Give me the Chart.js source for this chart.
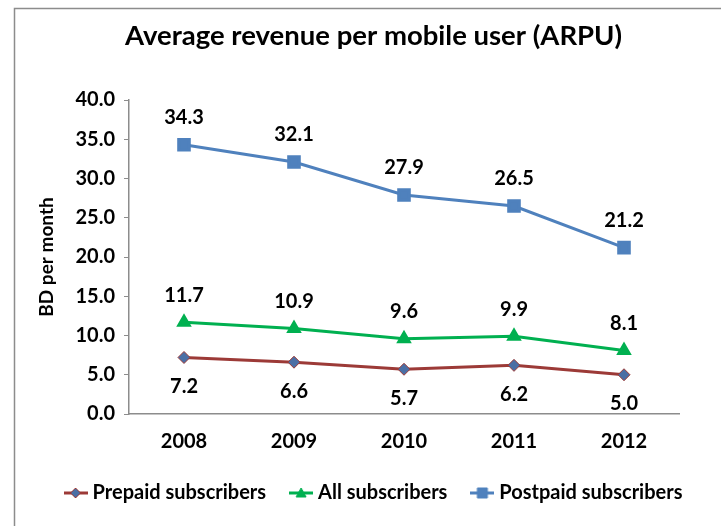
<!DOCTYPE html>
<html>
<head>
<meta charset="utf-8">
<script src="https://cdn.jsdelivr.net/npm/chart.js@4"></script>
<style>
  html, body { margin: 0; padding: 0; background: #fff; }
  #wrap { width: 721px; height: 526px; position: relative; }
</style>
</head>
<body>
<div id="wrap"><canvas id="arpuChart"></canvas></div>
<script>
// --- data ---
const years = ["2008", "2009", "2010", "2011", "2012"];
const prepaid = [7.2, 6.6, 5.7, 6.2, 5.0];
const allSubs = [11.7, 10.9, 9.6, 9.9, 8.1];
const postpaid = [34.3, 32.1, 27.9, 26.5, 21.2];

const FONT = "Lato, 'Open Sans', sans-serif";

// small line+marker swatch for the legend
function makeSwatch(lineColor, markFill, markStroke, shape) {
  const c = document.createElement("canvas");
  c.width = 24; c.height = 12;
  const ctx = c.getContext("2d");
  ctx.strokeStyle = lineColor;
  ctx.lineWidth = 3;
  ctx.beginPath(); ctx.moveTo(0, 6); ctx.lineTo(24, 6); ctx.stroke();
  ctx.fillStyle = markFill;
  ctx.strokeStyle = markStroke;
  ctx.lineWidth = 1;
  ctx.beginPath();
  if (shape === "diamond") {
    ctx.moveTo(12, 1); ctx.lineTo(17, 6); ctx.lineTo(12, 11); ctx.lineTo(7, 6);
  } else if (shape === "triangle") {
    ctx.moveTo(12, 1); ctx.lineTo(17, 10); ctx.lineTo(7, 10);
  } else {
    ctx.rect(7, 1, 10, 10);
  }
  ctx.closePath(); ctx.fill(); ctx.stroke();
  return c;
}

const swatches = [
  makeSwatch("#9c3a37", "#4a6fa5", "#9c3a37", "diamond"),
  makeSwatch("#00b050", "#00b050", "#00b050", "triangle"),
  makeSwatch("#4f81bd", "#4f81bd", "#4f81bd", "square")
];

// value labels next to each point
const valueLabels = {
  id: "valueLabels",
  afterDatasetsDraw(chart) {
    const ctx = chart.ctx;
    ctx.save();
    ctx.font = "bold 20px " + FONT;
    ctx.fillStyle = "#000";
    ctx.textAlign = "center";
    ctx.textBaseline = "middle";
    chart.data.datasets.forEach((ds, i) => {
      const meta = chart.getDatasetMeta(i);
      meta.data.forEach((pt, j) => {
        const off = ds.labelBelow ? 29 : -27;
        ctx.fillText(ds.data[j].toFixed(1), pt.x, pt.y + off);
      });
    });
    ctx.restore();
  }
};

// grey frame round the chart (open at right and bottom in the picture)
const frame = {
  id: "frame",
  beforeDraw(chart) {
    const ctx = chart.ctx;
    ctx.save();
    ctx.strokeStyle = "#8c8c8c";
    ctx.lineWidth = 1.5;
    ctx.strokeRect(14.5, 8.5, 900, 700);
    ctx.restore();
  }
};

// title and legend sit a little right of the canvas centre in the picture
const shiftBlocks = {
  id: "shiftBlocks",
  afterLayout(chart) {
    chart.titleBlock.left += 26;
    chart.legend.left += 15;
    chart.legend.right += 15;
  }
};

const ctx = document.getElementById("arpuChart").getContext("2d");
const arpuChart = new Chart(ctx, {
  type: "line",
  data: {
    labels: years,
    datasets: [
      {
        label: "Prepaid subscribers",
        data: prepaid,
        borderColor: "#9c3a37",
        backgroundColor: "#4a6fa5",
        pointBorderColor: "#9c3a37",
        pointBorderWidth: 1,
        pointStyle: "rectRot",
        pointRadius: 6,
        borderWidth: 3,
        labelBelow: true
      },
      {
        label: "All subscribers",
        data: allSubs,
        borderColor: "#00b050",
        backgroundColor: "#00b050",
        pointStyle: "triangle",
        pointRadius: 6,
        borderWidth: 3
      },
      {
        label: "Postpaid subscribers",
        data: postpaid,
        borderColor: "#4f81bd",
        backgroundColor: "#4f81bd",
        pointStyle: "rect",
        pointRadius: 7.5,
        borderWidth: 3
      }
    ]
  },
  options: {
    responsive: true,
    maintainAspectRatio: false,
    animation: false,
    layout: { padding: { left: 10, right: 10, top: 10, bottom: 13 } },
    plugins: {
      title: {
        display: true,
        text: "Average revenue per mobile user (ARPU)",
        color: "#000",
        font: { family: FONT, size: 27.5, weight: "bold" },
        padding: { top: 10, bottom: 47 }
      },
      legend: {
        position: "bottom",
        labels: {
          usePointStyle: true,
          pointStyleWidth: 14,
          boxHeight: 12,
          padding: 28,
          color: "#000",
          font: { family: FONT, size: 20, weight: "bold" },
          generateLabels(chart) {
            const items = Chart.defaults.plugins.legend.labels.generateLabels(chart);
            items.forEach((it, i) => { it.pointStyle = swatches[i]; });
            return items;
          }
        }
      },
      tooltip: { enabled: false }
    },
    scales: {
      x: {
        offset: true,
        afterFit(scale) { scale.height -= 7; },
        grid: { display: false },
        border: { color: "#8c8c8c", width: 1.5 },
        ticks: { color: "#000", padding: 8, font: { family: FONT, size: 20, weight: "bold" } }
      },
      y: {
        min: 0,
        max: 40,
        afterFit(scale) { scale.width = 119; },
        ticks: {
          stepSize: 5,
          color: "#000",
          padding: 9,
          font: { family: FONT, size: 20, weight: "bold" },
          callback: (v) => v.toFixed(1)
        },
        grid: { drawOnChartArea: false, drawTicks: true, tickLength: 5, color: "#8c8c8c" },
        border: { color: "#8c8c8c", width: 1.5 },
        title: {
          display: true,
          text: "BD per month",
          color: "#000",
          padding: { top: 25, bottom: 0 },
          font: { family: FONT, size: 19, weight: "bold" }
        }
      },
      // empty right-hand axis, only keeps the plot off the right edge
      yRight: {
        position: "right",
        min: 0,
        max: 40,
        afterFit(scale) { scale.width = 32; },
        ticks: { display: false },
        grid: { display: false },
        border: { display: false }
      }
    }
  },
  plugins: [valueLabels, frame, shiftBlocks]
});
</script>
</body>
</html>
